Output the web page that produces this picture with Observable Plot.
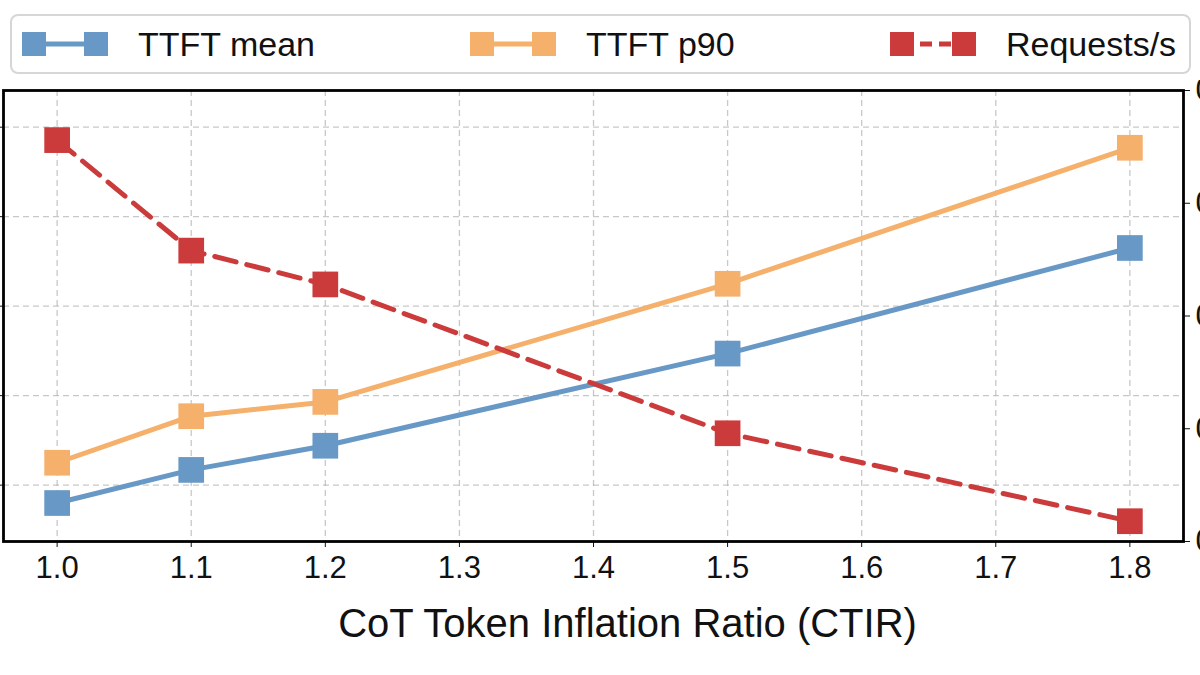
<!DOCTYPE html>
<html><head><meta charset="utf-8">
<script src="https://cdn.jsdelivr.net/npm/d3@7"></script>
<script src="https://cdn.jsdelivr.net/npm/@observablehq/plot@0.6"></script>
<style>
html,body{margin:0;padding:0;width:1200px;height:675px;overflow:hidden;background:#fff;font-family:"Liberation Sans",Arial,sans-serif;}
#legend{position:absolute;left:10px;top:14px;width:1181px;height:60px;border:2px solid #d6d6d6;border-radius:8px;box-sizing:border-box;background:#fff;}
.item{position:absolute;top:0;height:56px;display:flex;align-items:center;}
.item span{font-size:34px;color:#111;margin-left:30px;}
#chart{position:absolute;left:-60px;top:80px;width:1300px;}
#chart svg{max-width:none !important;}
</style></head><body>
<div id="legend"></div><div id="chart"></div>
<script>
const ctir = [1.0, 1.1, 1.2, 1.5, 1.8];
const ttftMean = [0.80, 1.17, 1.44, 2.47, 3.65];
const ttftP90 = [1.25, 1.77, 1.93, 3.25, 4.77];
const requestsPerSec = [0.578, 0.529, 0.514, 0.448, 0.409];
const xTicks = [1.0, 1.1, 1.2, 1.3, 1.4, 1.5, 1.6, 1.7, 1.8];
const leftTicks = [1, 2, 3, 4, 5];
const rightTicks = [0.40, 0.45, 0.50, 0.55, 0.60];
const seriesNames = ["TTFT mean", "TTFT p90", "Requests/s"];
const xLabel = "CoT Token Inflation Ratio (CTIR)";
const seriesColors = ["#6899c6", "#f5b06b", "#cc3b3b"];
const seriesDash = [null, null, "22,11"];

const leftDomain = [0.37, 5.41];
const rightDomain = [0.40, 0.60];
const toLeft = r => leftDomain[0] + (r - rightDomain[0]) / (rightDomain[1] - rightDomain[0]) * (leftDomain[1] - leftDomain[0]);
const fromLeft = l => rightDomain[0] + (l - leftDomain[0]) / (leftDomain[1] - leftDomain[0]) * (rightDomain[1] - rightDomain[0]);

const data = [];
ctir.forEach((x, i) => {
  data.push({x, y: ttftMean[i], s: seriesNames[0]});
  data.push({x, y: ttftP90[i], s: seriesNames[1]});
  data.push({x, y: toLeft(requestsPerSec[i]), s: seriesNames[2]});
});

// legend
const legend = document.getElementById("legend");
const lefts = [10, 458, 878];
seriesNames.forEach((name, i) => {
  const d = document.createElement("div");
  d.className = "item";
  d.style.left = lefts[i] + "px";
  d.innerHTML = `<svg width="86" height="30"><line x1="11" x2="75" y1="15" y2="15" stroke="${seriesColors[i]}" stroke-width="5" ${seriesDash[i] ? 'stroke-dasharray="12,7"' : ''}/>
  <rect x="0" y="3" width="24" height="24" fill="${seriesColors[i]}"/><rect x="62" y="3" width="24" height="24" fill="${seriesColors[i]}"/></svg><span>${name}</span>`;
  legend.appendChild(d);
});

const marks = [
  Plot.gridX(xTicks, {stroke: "#b0b0b0", strokeOpacity: 0.7, strokeWidth: 1.3, strokeDasharray: "6,4"}),
  Plot.gridY(leftTicks, {stroke: "#b0b0b0", strokeOpacity: 0.7, strokeWidth: 1.3, strokeDasharray: "6,4"})
];
seriesNames.forEach((name, i) => {
  const sd = data.filter(d => d.s === name);
  marks.push(Plot.line(sd, {x: "x", y: "y", stroke: seriesColors[i], strokeWidth: 5, strokeDasharray: seriesDash[i] || undefined}));
  marks.push(Plot.dot(sd, {x: "x", y: "y", symbol: "square", r: 14.5, fill: seriesColors[i], stroke: null}));
});
marks.push(
  Plot.axisX({ticks: xTicks, tickFormat: d3.format(".1f"), tickSize: 6, tickPadding: 8, fontSize: 31, label: null}),
  Plot.text([xLabel], {text: d => d, frameAnchor: "bottom", dy: 95, dx: 34, fontSize: 40, fill: "#111"}),
  Plot.axisY({anchor: "left", ticks: leftTicks, tickSize: 6, tickFormat: () => "", label: null}),
  Plot.axisY({anchor: "right", ticks: rightTicks.map(toLeft), tickFormat: d => fromLeft(d).toFixed(2), tickSize: 6, tickPadding: 6, fontSize: 31, label: null}),
  Plot.frame({stroke: "#000", strokeWidth: 2.8})
);

const chart = Plot.plot({
  width: 1300, height: 575,
  marginLeft: 63, marginRight: 57, marginTop: 10, marginBottom: 114,
  style: {fontFamily: "'Liberation Sans', Arial, sans-serif", fontSize: "31px", color: "#111", background: "transparent", maxWidth: "none"},
  x: {domain: [0.96, 1.84]},
  y: {domain: leftDomain},
  marks
});
document.getElementById("chart").appendChild(chart);
</script>
</body></html>
